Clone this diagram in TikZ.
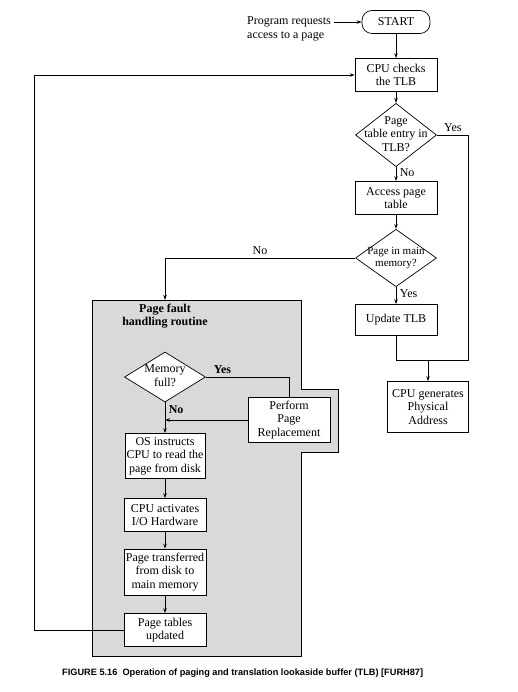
\documentclass[tikz,border=0pt]{standalone}
\usepackage{fontspec}
\setmainfont{Liberation Serif}
\newfontfamily\capfont{Liberation Sans}
\usetikzlibrary{shapes.geometric,arrows.meta}
\newcommand{\decisiontext}[1]{\smash{\raisebox{-3pt}{\begin{tabular}{@{}c@{}}#1\end{tabular}}}}

\begin{document}
\begin{tikzpicture}[x=1pt, y=-1pt,
    every node/.style={font=\fontsize{12}{13.5}\selectfont},
    stepbox/.style={draw, line width=0.7pt, fill=white, minimum width=82pt, align=center, inner sep=1pt},
    decision/.style={draw, line width=0.7pt, diamond, fill=white, inner sep=0pt, minimum width=81pt, minimum height=50pt},
    flow/.style={line width=0.9pt},
    arr/.style={flow, -{Stealth[length=5pt, width=3.5pt]}}]
    \useasboundingbox (0,0) rectangle (518,692);

    % Page fault handling routine (background)
    \draw[line width=0.7pt, fill=black!15] (92,300) -- (301,300) -- (301,389) -- (338,389) -- (338,452) -- (301,452) -- (301,656) -- (92,656) -- cycle;
    \coordinate (faulttop) at (165,300);
    \coordinate (join) at (428,360);
    \coordinate (loop) at (34,0);

    % Main path
    \node[align=left] (prog) at (289,29) {Program requests\\access to a page};
    \node[draw, line width=0.7pt, rounded corners=10pt, minimum width=68pt, minimum height=23pt] (start) at (396,22) {START};
    \node[stepbox, minimum height=33pt] (check) at (396,75) {CPU checks\\the TLB};
    \node[decision] (intlb) at (396,135) {\decisiontext{Page\\table entry in\\TLB?}};
    \node[stepbox, minimum height=33pt] (access) at (396,198) {Access page\\table};
    \node[decision, font=\fontsize{11}{12}\selectfont] (inmem) at (396,258) {\decisiontext{Page in main\\memory?}};
    \node[stepbox, minimum height=31pt] (update) at (396,320) {Update TLB};
    \node[stepbox, minimum width=81pt, minimum height=51pt] (phys) at (428,407) {CPU generates\\Physical\\Address};

    \draw[arr] (prog.east |- start.west) -- (start.west);
    \draw[arr] (start) -- (check);
    \draw[arr] (check) -- (intlb);
    \draw[arr] (intlb) -- (access) node[pos=0.4, right] {No};
    \draw[flow] (intlb.east) -- (intlb.east -| phys.east) node[midway, above] {Yes} |- (join);
    \draw[arr] (access) -- (inmem);
    \draw[arr] (inmem) -- (update) node[pos=0.4, right] {Yes};
    \draw[flow] (update) |- (join);
    \draw[arr] (join) -- (phys);
    \draw[arr] (inmem.west) -| (faulttop) node[pos=0.25, above] {No};

    % Page fault handling routine
    \node[font=\bfseries\fontsize{12}{13.5}\selectfont, align=center] (title) at (165,316) {Page fault\\handling routine};
    \node[decision] (full) at (165,377) {\decisiontext{Memory\\full?}};
    \node[stepbox, minimum height=45pt] (replace) at (289,420) {Perform\\Page\\Replacement};
    \node[stepbox, minimum width=80pt, minimum height=45pt] (osread) at (165,456) {OS instructs\\CPU to read the\\page from disk};
    \node[stepbox, minimum height=33pt] (ioact) at (165,515) {CPU activates\\I/O Hardware};
    \node[stepbox, minimum height=46pt] (transfer) at (165,572) {Page transferred\\from disk to\\main memory};
    \node[stepbox, minimum height=33pt] (tables) at (165,630) {Page tables\\updated};

    \draw[flow] (full.east) -| (replace.north) node[pos=0.1, above] {\textbf{Yes}};
    \draw[arr] (full) -- (osread) node[pos=0.25, right] {\textbf{No}};
    \draw[arr] (replace.west) -- (replace.west -| full.south);
    \draw[arr] (osread) -- (ioact);
    \draw[arr] (ioact) -- (transfer);
    \draw[arr] (transfer) -- (tables);
    \draw[arr] (tables.west) -- (tables.west -| loop) |- (check.west);

    % Caption
    \node[font=\capfont\bfseries\fontsize{9.2}{11}\selectfont, anchor=west, inner sep=0pt] (caption) at (62,673) {FIGURE 5.16\ \ Operation of paging and translation lookaside buffer (TLB) [FURH87]};
\end{tikzpicture}
\end{document}
